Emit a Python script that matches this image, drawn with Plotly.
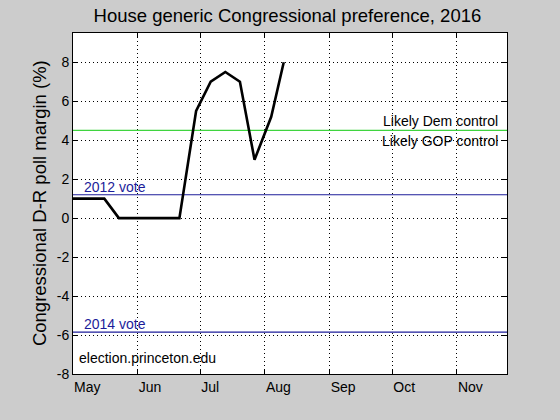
import plotly.graph_objects as go

# Data
dates = ["2016-05-01", "2016-05-16", "2016-05-23", "2016-06-21", "2016-06-29",
         "2016-07-06", "2016-07-13", "2016-07-20", "2016-07-27", "2016-08-04",
         "2016-08-10"]
margin = [1, 1, 0, 0, 5.5, 7, 7.5, 7, 3, 5.2, 8]

month_ticks = ["2016-05-01", "2016-06-01", "2016-07-01", "2016-08-01",
               "2016-09-01", "2016-10-01", "2016-11-01"]
month_labels = ["May", "Jun", "Jul", "Aug", "Sep", "Oct", "Nov"]
y_ticks = [-8, -6, -4, -2, 0, 2, 4, 6, 8]
y_labels = ["-8", "-6", "-4", "-2", "0", "2", "4", "6", "8"]

x_range = ["2016-05-01", "2016-11-25"]
y_range = [-8, 9.5]

control_threshold = 4.5
vote_2012 = 1.2
vote_2014 = -5.85

font_family = "Liberation Sans, Arial, sans-serif"

fig = go.Figure()

# reference lines
fig.add_trace(go.Scatter(x=x_range, y=[control_threshold] * 2, mode="lines",
                         line=dict(color="#3fd43f", width=1.2), hoverinfo="skip"))
fig.add_trace(go.Scatter(x=x_range, y=[vote_2012] * 2, mode="lines",
                         line=dict(color="#1c1c9a", width=1.2), hoverinfo="skip"))
fig.add_trace(go.Scatter(x=x_range, y=[vote_2014] * 2, mode="lines",
                         line=dict(color="#1c1c9a", width=1.2), hoverinfo="skip"))

# poll margin
fig.add_trace(go.Scatter(x=dates, y=margin, mode="lines",
                         line=dict(color="black", width=2.6)))

axis_common = dict(
    showline=True, linecolor="black", linewidth=1, mirror="ticks",
    ticks="inside", ticklen=5, tickcolor="black",
    showgrid=True, gridcolor="black", gridwidth=1, griddash="1px,3px",
    zeroline=False, automargin=False,
    tickfont=dict(family=font_family, size=14, color="black"),
)

fig.update_xaxes(type="date", range=x_range, tickvals=month_ticks, ticktext=month_labels,
                 ticklabelposition="outside right", **axis_common)
fig.update_yaxes(range=y_range, tickvals=y_ticks, ticktext=y_labels, **axis_common)

fig.update_layout(
    width=560, height=420,
    margin=dict(l=73, r=53, t=33, b=46, autoexpand=False),
    paper_bgcolor="#cccccc", plot_bgcolor="white",
    showlegend=False,
    font=dict(family=font_family, color="black"),
    title=dict(text="House generic Congressional preference, 2016",
               x=0.494, xanchor="center", y=0.962, yanchor="middle",
               xref="paper",
               font=dict(size=18.5, family=font_family, color="black")),
)

ann_font = dict(family=font_family, size=14, color="black")
blue_font = dict(family=font_family, size=14, color="#1c1c9a")

fig.add_annotation(text="Congressional D-R poll margin (%)", xref="paper", yref="paper",
                   x=-0.077, y=0.5, textangle=-90, showarrow=False,
                   xanchor="center", yanchor="middle",
                   font=dict(family=font_family, size=18.5, color="black"))
fig.add_annotation(text="Likely Dem control", xref="paper", yref="y", x=0.983,
                   y=control_threshold, yanchor="bottom", xanchor="right",
                   showarrow=False, font=ann_font, yshift=-1)
fig.add_annotation(text="Likely GOP control", xref="paper", yref="y", x=0.983,
                   y=control_threshold, yanchor="top", xanchor="right",
                   showarrow=False, font=ann_font, yshift=-1)
fig.add_annotation(text="2012 vote", xref="paper", yref="y", x=0.02,
                   y=vote_2012, yanchor="bottom", xanchor="left",
                   showarrow=False, font=blue_font, yshift=-2)
fig.add_annotation(text="2014 vote", xref="paper", yref="y", x=0.02,
                   y=vote_2014, yanchor="bottom", xanchor="left",
                   showarrow=False, font=blue_font, yshift=-2)
fig.add_annotation(text="election.princeton.edu", xref="paper", yref="paper", x=0.01,
                   y=0.048, yanchor="middle", xanchor="left",
                   showarrow=False, font=ann_font)

fig.write_html("out.html",
               config={"displayModeBar": False},
               post_script="document.body.style.margin='0';"
                           "document.body.style.background='#cccccc';")
